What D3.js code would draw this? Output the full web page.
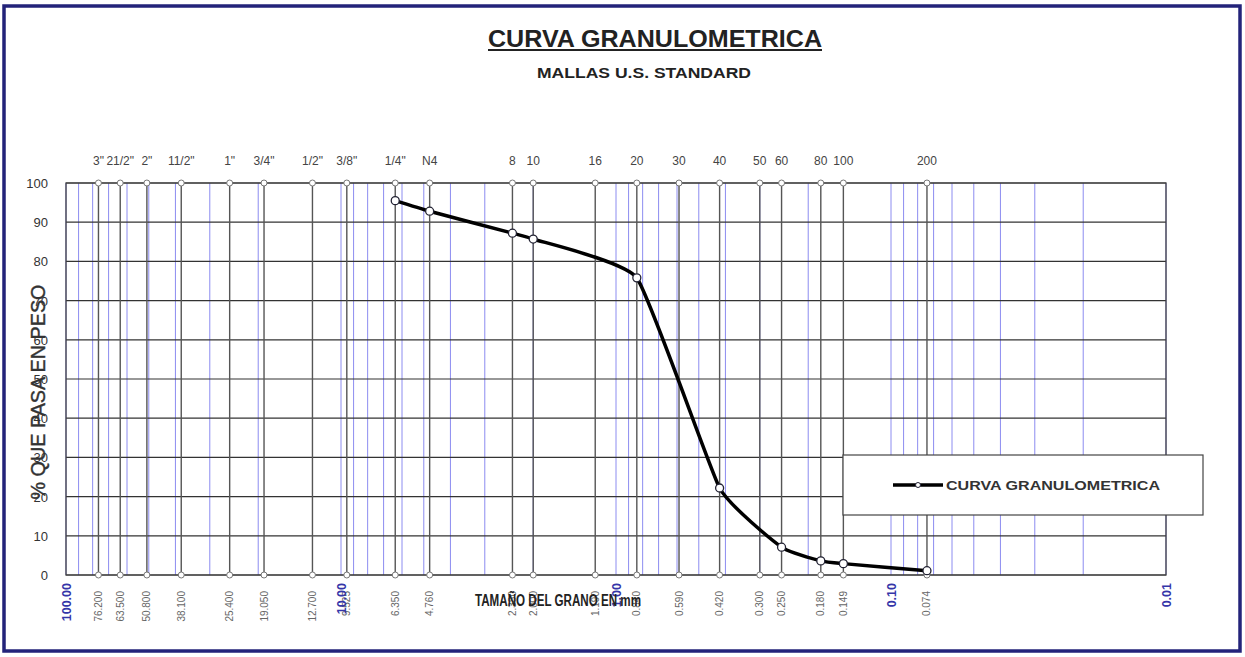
<!DOCTYPE html>
<html>
<head>
<meta charset="utf-8">
<script src="https://cdn.jsdelivr.net/npm/d3@7"></script>
<style>
  html, body { margin: 0; padding: 0; background: #fff; }
  svg { display: block; }
  text { font-family: "Liberation Sans", Arial, sans-serif; }
</style>
</head>
<body>
<svg id="chart" width="1245" height="657"></svg>
<script>
// Sieve openings (mm) and their U.S. Standard names
const sieveNames = ['3"', '21/2"', '2"', '11/2"', '1"', '3/4"', '1/2"', '3/8"', '1/4"', 'N4',
                    '8', '10', '16', '20', '30', '40', '50', '60', '80', '100', '200'];
const sieveSizes = [76.2, 63.5, 50.8, 38.1, 25.4, 19.05, 12.7, 9.525, 6.35, 4.76,
                    2.38, 2.0, 1.19, 0.84, 0.59, 0.42, 0.30, 0.25, 0.18, 0.149, 0.074];
const sieveSizeLabels = ['76.200', '63.500', '50.800', '38.100', '25.400', '19.050', '12.700', '9.525', '6.350', '4.760',
                         '2.380', '2.000', '1.190', '0.840', '0.590', '0.420', '0.300', '0.250', '0.180', '0.149', '0.074'];

// Grading curve: grain size (mm) vs. percent passing
const curveSizes = [6.35, 4.76, 2.38, 2.0, 0.84, 0.42, 0.25, 0.18, 0.149, 0.074];
const curvePassing = [95.5, 92.8, 87.2, 85.7, 75.8, 22.2, 7.1, 3.6, 2.9, 1.1];

const decadeValues = [100, 10, 1, 0.1, 0.01];
const decadeLabels = ['100.00', '10.00', '1.00', '0.10', '0.01'];
const yTicks = [0, 10, 20, 30, 40, 50, 60, 70, 80, 90, 100];

const svg = d3.select('#chart');

const plotLeft = 66, plotRight = 1166, plotTop = 183, plotBottom = 575;
const x = d3.scaleLog().domain([100, 0.01]).range([plotLeft, plotRight]);
const y = d3.scaleLinear().domain([0, 100]).range([plotBottom, plotTop]);

// outer frame
svg.append('rect').attr('x', 4).attr('y', 6).attr('width', 1236).attr('height', 645)
  .attr('fill', '#fff').attr('stroke', '#23237a').attr('stroke-width', 3.5);

// titles
svg.append('text').attr('x', 655).attr('y', 47).attr('text-anchor', 'middle')
  .attr('font-size', 24).attr('font-weight', 'bold').attr('fill', '#222')
  .attr('textLength', 334).attr('lengthAdjust', 'spacingAndGlyphs')
  .text('CURVA GRANULOMETRICA');
svg.append('line').attr('x1', 488).attr('x2', 822).attr('y1', 50).attr('y2', 50)
  .attr('stroke', '#222').attr('stroke-width', 2);
svg.append('text').attr('x', 644).attr('y', 78).attr('text-anchor', 'middle')
  .attr('font-size', 14).attr('font-weight', 'bold').attr('fill', '#222')
  .attr('textLength', 214).attr('lengthAdjust', 'spacingAndGlyphs')
  .text('MALLAS U.S. STANDARD');

const plot = svg.append('g');

// log minor grid (blue)
const minorTicks = x.ticks(40).filter(v => v >= 0.01 && v <= 100);
plot.append('g').selectAll('line').data(minorTicks).join('line')
  .attr('x1', d => x(d)).attr('x2', d => x(d))
  .attr('y1', plotTop).attr('y2', plotBottom)
  .attr('stroke', '#8c8cf0').attr('stroke-width', 1);

// horizontal grid
plot.append('g').selectAll('line').data(yTicks).join('line')
  .attr('x1', plotLeft).attr('x2', plotRight)
  .attr('y1', d => y(d)).attr('y2', d => y(d))
  .attr('stroke', '#333').attr('stroke-width', 1.2);

// sieve lines
plot.append('g').selectAll('line').data(sieveSizes).join('line')
  .attr('x1', d => x(d)).attr('x2', d => x(d))
  .attr('y1', y(100)).attr('y2', y(0))
  .attr('stroke', '#555').attr('stroke-width', 1.4);

// plot frame
plot.append('rect').attr('x', plotLeft).attr('y', plotTop)
  .attr('width', plotRight - plotLeft).attr('height', plotBottom - plotTop)
  .attr('fill', 'none').attr('stroke', '#444').attr('stroke-width', 1.3);

// sieve markers at 0 and 100
[0, 100].forEach(v => {
  plot.append('g').selectAll('circle').data(sieveSizes).join('circle')
    .attr('cx', d => x(d)).attr('cy', y(v)).attr('r', 3)
    .attr('fill', '#fff').attr('stroke', '#777').attr('stroke-width', 1);
});

// sieve names on top
svg.append('g').selectAll('text').data(sieveSizes).join('text')
  .attr('x', d => x(d)).attr('y', 165).attr('text-anchor', 'middle')
  .attr('font-size', 12).attr('fill', '#444')
  .text((d, i) => sieveNames[i]);

// sieve openings at bottom (rotated)
svg.append('g').selectAll('text').data(sieveSizes).join('text')
  .attr('transform', d => `translate(${x(d) + 3.5},591) rotate(-90)`)
  .attr('text-anchor', 'end')
  .attr('font-size', 10).attr('fill', '#666')
  .text((d, i) => sieveSizeLabels[i]);

// decade labels
svg.append('g').selectAll('text').data(decadeValues).join('text')
  .attr('transform', d => `translate(${x(d) + 4.5},583) rotate(-90)`)
  .attr('text-anchor', 'end')
  .attr('font-size', 12.5).attr('font-weight', 'bold').attr('fill', '#3535a8')
  .text((d, i) => decadeLabels[i]);

// y axis tick labels
svg.append('g').selectAll('text').data(yTicks).join('text')
  .attr('x', 48).attr('y', d => y(d) + 5).attr('text-anchor', 'end')
  .attr('font-size', 13).attr('fill', '#333')
  .text(d => d);

// axis titles
svg.append('text').attr('transform', 'translate(45,392) rotate(-90)')
  .attr('text-anchor', 'middle').attr('font-size', 20).attr('fill', '#333')
  .attr('stroke', '#333').attr('stroke-width', 0.4)
  .attr('textLength', 215).attr('lengthAdjust', 'spacingAndGlyphs')
  .text('% QUE PASA EN PESO');
svg.append('text').attr('x', 558).attr('y', 606).attr('text-anchor', 'middle')
  .attr('font-size', 16).attr('font-weight', 'bold').attr('fill', '#222')
  .attr('textLength', 166).attr('lengthAdjust', 'spacingAndGlyphs')
  .text('TAMAÑO DEL GRANO EN mm');

// grading curve
const pts = curveSizes.map((s, i) => [s, curvePassing[i]]);
const line = d3.line().x(d => x(d[0])).y(d => y(d[1])).curve(d3.curveCardinal.tension(0.6));
plot.append('path').datum(pts).attr('d', line)
  .attr('fill', 'none').attr('stroke', '#000').attr('stroke-width', 3.5);
plot.append('g').selectAll('circle').data(pts).join('circle')
  .attr('cx', d => x(d[0])).attr('cy', d => y(d[1])).attr('r', 4)
  .attr('fill', '#fff').attr('stroke', '#223').attr('stroke-width', 1.3);

// legend
const lg = svg.append('g');
lg.append('rect').attr('x', 843).attr('y', 455).attr('width', 360).attr('height', 60)
  .attr('fill', '#fff').attr('stroke', '#444').attr('stroke-width', 1.2);
lg.append('line').attr('x1', 893).attr('x2', 943).attr('y1', 485).attr('y2', 485)
  .attr('stroke', '#000').attr('stroke-width', 3.5);
lg.append('circle').attr('cx', 918).attr('cy', 485).attr('r', 2.5)
  .attr('fill', '#fff').attr('stroke', '#223').attr('stroke-width', 1);
lg.append('text').attr('x', 946).attr('y', 490).attr('font-size', 13).attr('font-weight', 'bold')
  .attr('fill', '#333').attr('textLength', 214).attr('lengthAdjust', 'spacingAndGlyphs')
  .text('CURVA GRANULOMETRICA');
</script>
</body>
</html>
